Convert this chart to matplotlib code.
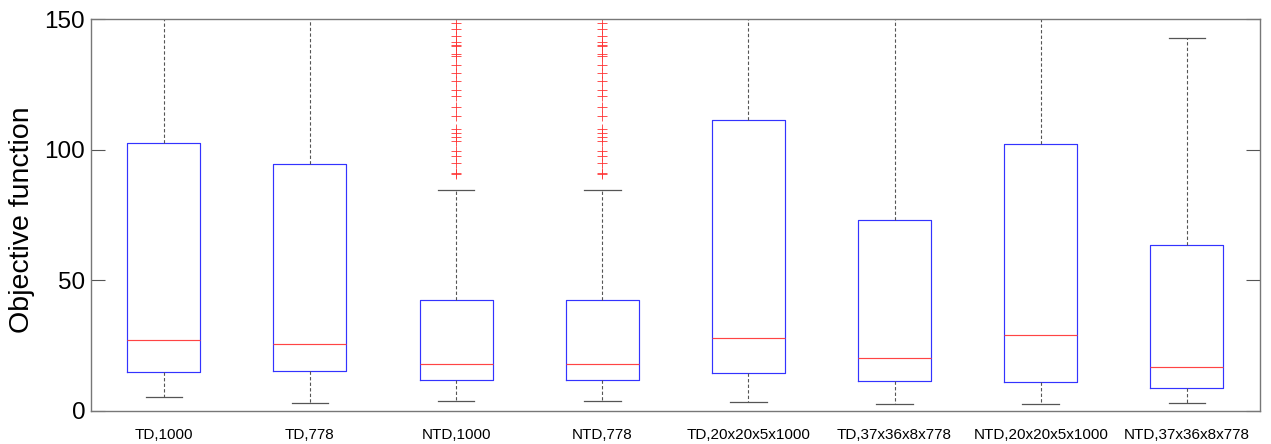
import matplotlib
matplotlib.use("Agg")
import matplotlib.pyplot as plt

plt.rcParams['font.family'] = ['Liberation Sans', 'DejaVu Sans']

labels = ["TD,1000", "TD,778", "NTD,1000", "NTD,778",
          "TD,20x20x5x1000", "TD,37x36x8x778", "NTD,20x20x5x1000", "NTD,37x36x8x778"]
q1 = [14.9, 15.1, 11.8, 11.8, 14.6, 11.4, 10.9, 8.85]
medians = [27.0, 25.4, 17.8, 17.8, 28.0, 20.3, 28.9, 16.9]
q3 = [102.4, 94.5, 42.5, 42.5, 111.5, 72.9, 102.2, 63.5]
whisker_low = [5.2, 2.95, 3.9, 3.9, 3.4, 2.7, 2.6, 3.1]
whisker_high = [230.0, 215.0, 84.5, 84.5, 255.0, 165.0, 240.0, 142.6]

ntd_outliers = [90.8, 91.2, 94.8, 97.7, 99.3, 103.3, 104.9, 106.5, 107.8,
                112.9, 116.4, 120.5, 122.8, 126.3, 129.2, 132.4, 135.8,
                136.5, 139.8, 140.2, 141.3, 143.6, 146.2, 148.4]
outliers = [[], [], ntd_outliers, ntd_outliers, [], [], [], []]

stats = []
for i, lab in enumerate(labels):
    stats.append(dict(label=lab, q1=q1[i], med=medians[i], q3=q3[i],
                      whislo=whisker_low[i], whishi=whisker_high[i],
                      fliers=outliers[i]))

fig = plt.figure(figsize=(12.71, 4.44), dpi=100)
ax = fig.add_axes([90.7 / 1271, 1 - 410.8 / 444, (1260 - 90.7) / 1271, (410.8 - 19) / 444])

ax.bxp(stats, positions=range(1, 9), widths=0.5, showfliers=True,
       boxprops=dict(color='#3333ff', linewidth=0.85),
       medianprops=dict(color='#ff4444', linewidth=0.85),
       whiskerprops=dict(color='#555555', linewidth=0.8, linestyle=(0, (3, 2))),
       capprops=dict(color='#555555', linewidth=0.9),
       capwidths=0.25,
       flierprops=dict(marker='+', markeredgecolor='#ff3333', markersize=6.5,
                       markeredgewidth=0.6, linestyle='none'))

ax.set_xlim(0.5, 8.5)
ax.set_ylim(0, 150)
ax.set_yticks([0, 50, 100, 150])
ax.tick_params(axis='y', direction='in', length=10, width=0.8, color='#555555',
               labelsize=17.5, right=True, pad=4)
ax.tick_params(axis='x', length=0, labelsize=11, pad=12.5)
for s in ax.spines.values():
    s.set_color('#777777')
    s.set_linewidth(1.0)

ax.set_ylabel("Objective function", fontsize=20.5)
ax.yaxis.set_label_coords(-0.0476, 0.487)

fig.savefig("out.png", dpi=100)
